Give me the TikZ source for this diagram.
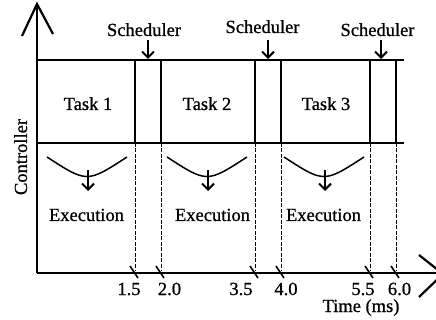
\documentclass[tikz,border=0pt]{standalone}
\usepackage{fontspec}
\setmainfont[FakeBold=0.8]{Liberation Serif}
\usetikzlibrary{arrows.meta}
\begin{document}
\begin{tikzpicture}[x=1pt,y=-1pt,
  frame/.style={line width=2.2pt},
  dashline/.style={line width=1pt,dash pattern=on 4pt off 1.5pt},
  tickmark/.style={line width=1.6pt},
  lbl/.style={font=\fontsize{18.5}{20}\selectfont, inner sep=0pt, anchor=base},
  downarrow/.style={line width=2pt,-{Straight Barb[length=6pt,width=12pt]}},
  curvearc/.style={line width=1.5pt},
]
\useasboundingbox (0,0) rectangle (436,320);

% axes
\coordinate (ytip) at (37,4);
\coordinate (yorig) at (37,273);
\coordinate (xend) at (443,273);
\draw[frame] (yorig) -- (ytip);
\draw[frame] (22,36) -- (ytip) -- (53,34);
\draw[frame] (yorig) -- (xend);
\draw[frame] (419,255) -- (443,274) -- (419,297);

% horizontal lines
\coordinate (tl) at (37,60);
\coordinate (tr) at (404,60);
\coordinate (ml) at (37,143);
\coordinate (mr) at (404,143);
\draw[frame] (tl) -- (tr);
\draw[frame] (ml) -- (mr);

% vertical lines, ticks and numbers
\foreach \x/\lab/\lx in {135/1.5/129,161/2.0/169.5,255/3.5/241,281/4.0/286,370/5.5/363,396/6.0/399.5}{
  \coordinate (vt\x) at (\x,60);
  \coordinate (vm\x) at (\x,143);
  \coordinate (vb\x) at (\x,271);
  \draw[frame] (vt\x) -- (vm\x);
  \draw[dashline] (vm\x) -- (vb\x);
  \draw[tickmark] (\x-5,266) -- (\x+3,278);
  \node[lbl] (n\x) at (\lx,295) {\lab};
}

% scheduler labels and arrows
\foreach \i/\lx/\ly/\ax in {1/144/36/148,2/262.5/33/268,3/377.5/36/381}{
  \node[lbl] (s\i) at (\lx,\ly) {Scheduler};
  \coordinate (sa\i) at (\ax,40);
  \coordinate (sb\i) at (\ax,59);
  \draw[downarrow] (sa\i) -- (sb\i);
}

% tasks
\node[lbl] (t1) at (88,110) {Task 1};
\node[lbl] (t2) at (207,110) {Task 2};
\node[lbl] (t3) at (326,110) {Task 3};

% execution curves and arrows
\foreach \i/\cx/\ex in {1/87/86.5,2/207/212.5,3/324/323.5}{
  \coordinate (cl\i) at (\cx-40,157);
  \coordinate (cr\i) at (\cx+40,157);
  \draw[curvearc] (cl\i) .. controls (\cx,183) .. (cr\i);
  \coordinate (ea\i) at (\cx+1,170);
  \coordinate (eb\i) at (\cx+1,191);
  \draw[downarrow] (ea\i) -- (eb\i);
  \node[lbl] (e\i) at (\ex,221) {Execution};
}

% axis labels
\node[lbl] (time) at (361,312) {Time (ms)};
\node[lbl,rotate=90] (ctrl) at (27,157) {Controller};
\end{tikzpicture}
\end{document}
